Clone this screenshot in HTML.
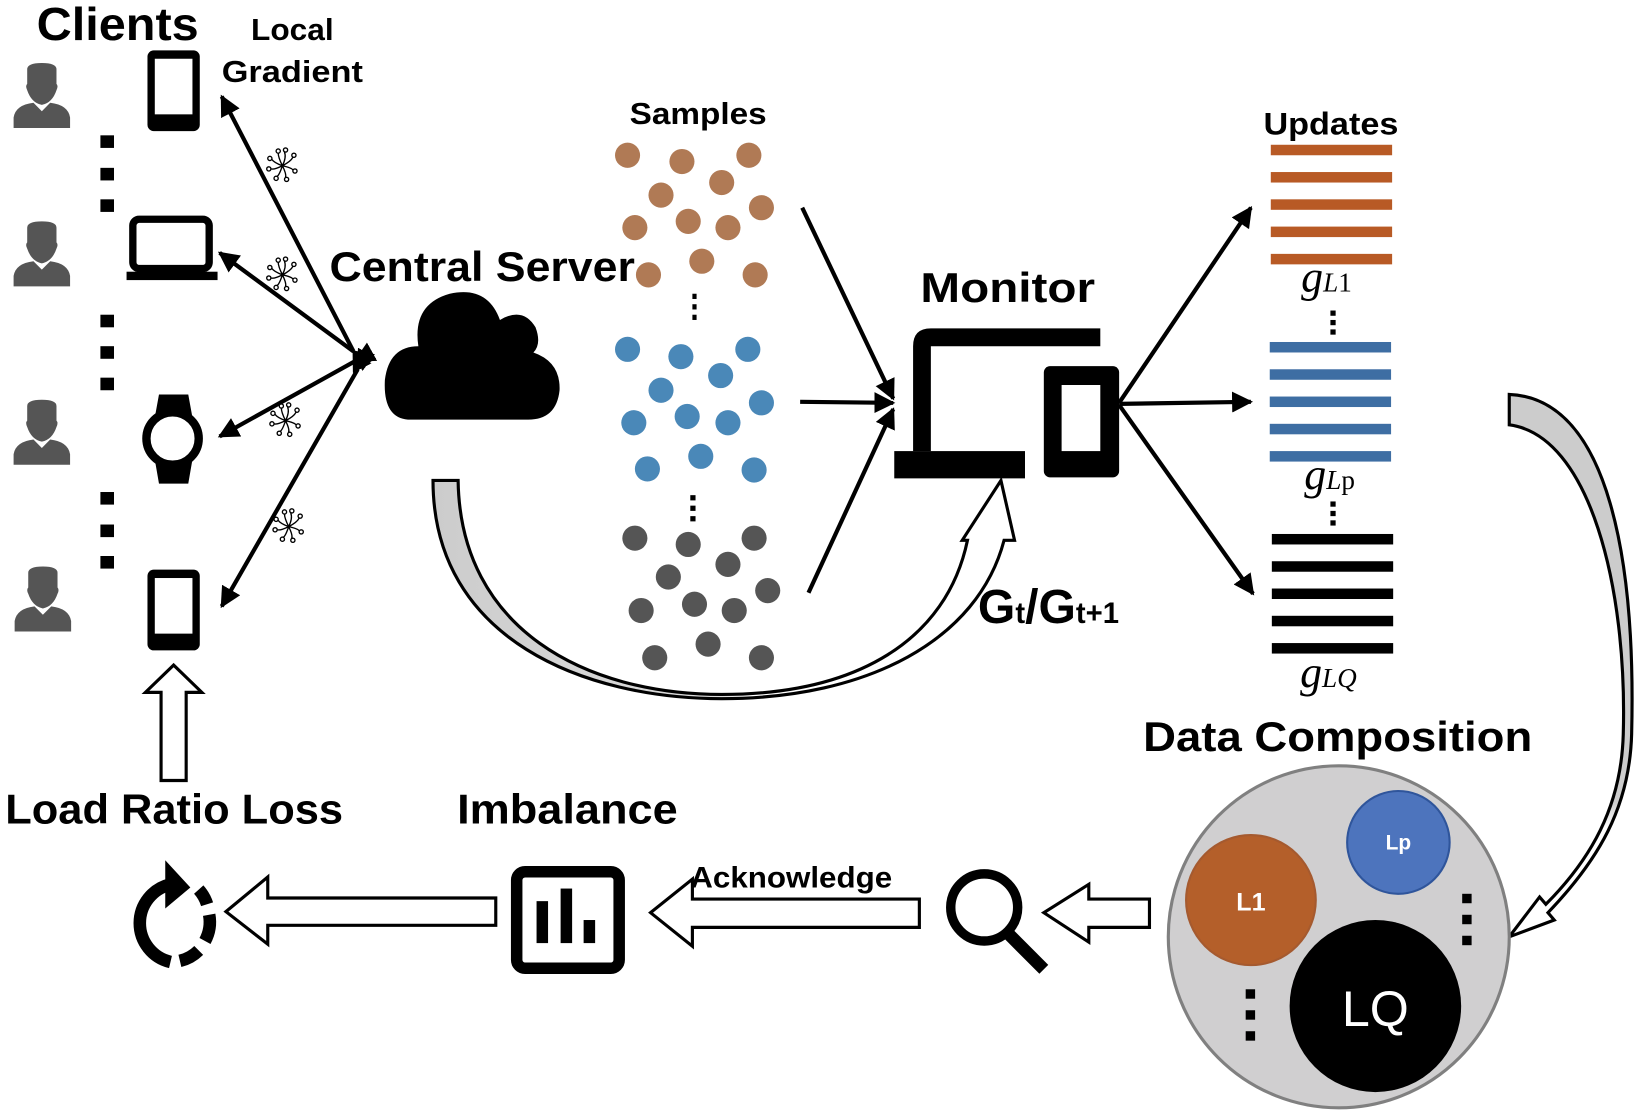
<!DOCTYPE html>
<html><head><meta charset="utf-8"><style>html,body{margin:0;padding:0;background:#fff}svg{display:block}</style></head>
<body>
<svg width="1640" height="1112" viewBox="0 0 1568 1060" preserveAspectRatio="none" xmlns="http://www.w3.org/2000/svg" font-family="'Liberation Sans', sans-serif" font-weight="bold">
<defs>
<marker id="ah" viewBox="0 0 10 10" refX="9" refY="5" markerWidth="5" markerHeight="5" orient="auto"><path d="M0,0 L10,5 L0,10 z" fill="#000"/></marker>
<g id="person" fill="#555">
<path d="M-14,-28 Q-14,-34 0,-34 Q14,-34 14,-28 L14,-14 Q16,-12 14,-8 Q10,4 0,6 Q-10,4 -14,-8 Q-16,-12 -14,-14 Z"/>
<path d="M-27,28 L-27,18 Q-25,6 -8,4 L0,12 L8,4 Q25,6 27,18 L27,28 Z"/>
</g>
<g id="chip" fill="none" stroke="#000" stroke-width="1.3">
<path d="M0,0 Q-4,-8 -4,-12 M0,0 Q4,-8 2,-13 M0,0 Q8,-4 10,-8 M0,0 Q9,2 10,4 M0,0 Q4,8 3,11 M0,0 Q-3,9 -5,10 M0,0 Q-8,4 -11,3 M0,0 Q-8,-3 -10,-6"/>
<circle cx="-4" cy="-14" r="2" fill="#fff"/><circle cx="3" cy="-15" r="2" fill="#fff"/><circle cx="11" cy="-10" r="2" fill="#fff"/><circle cx="12" cy="5" r="2" fill="#fff"/><circle cx="4" cy="13" r="2" fill="#fff"/><circle cx="-6" cy="12" r="2" fill="#fff"/><circle cx="-13" cy="3" r="2" fill="#fff"/><circle cx="-12" cy="-7" r="2" fill="#fff"/>
</g>
<g id="phone"><rect x="-25" y="-38" width="50" height="77" rx="6" fill="#000"/><rect x="-18" y="-30" width="36" height="53" fill="#fff"/></g>
<linearGradient id="gr1" x1="0" y1="0" x2="1" y2="0"><stop offset="0" stop-color="#ccc"/><stop offset="0.5" stop-color="#ddd"/><stop offset="0.55" stop-color="#fff"/></linearGradient>
<linearGradient id="gr2" x1="0" y1="0" x2="0" y2="1"><stop offset="0" stop-color="#ccc"/><stop offset="0.75" stop-color="#ccc"/><stop offset="0.8" stop-color="#fff"/></linearGradient>
</defs>

<!-- Text -->
<text x="35" y="38" font-size="44" textLength="155" lengthAdjust="spacingAndGlyphs">Clients</text>
<text x="240" y="38" font-size="29" textLength="79" lengthAdjust="spacingAndGlyphs">Local</text>
<text x="212" y="78" font-size="29" textLength="135" lengthAdjust="spacingAndGlyphs">Gradient</text>
<text x="315" y="268" font-size="40" textLength="292" lengthAdjust="spacingAndGlyphs">Central Server</text>
<text x="602" y="118" font-size="29" textLength="131" lengthAdjust="spacingAndGlyphs">Samples</text>
<text x="880" y="288" font-size="40" textLength="167" lengthAdjust="spacingAndGlyphs">Monitor</text>
<text x="1208" y="128" font-size="30" textLength="129" lengthAdjust="spacingAndGlyphs">Updates</text>
<text x="1093" y="716" font-size="40" textLength="372" lengthAdjust="spacingAndGlyphs">Data Composition</text>
<text x="5" y="785" font-size="40" textLength="323" lengthAdjust="spacingAndGlyphs">Load Ratio Loss</text>
<text x="437" y="785" font-size="40" textLength="211" lengthAdjust="spacingAndGlyphs">Imbalance</text>
<text x="660" y="846" font-size="28" textLength="193" lengthAdjust="spacingAndGlyphs">Acknowledge</text>
<text x="935" y="594" font-size="46">G<tspan font-size="28">t</tspan>/G<tspan font-size="28">t+1</tspan></text>
<g font-family="'Liberation Serif', serif" font-style="italic" font-weight="normal">
<text x="1244" y="278" font-size="42">g<tspan font-size="26">L</tspan><tspan font-style="normal" font-size="26">1</tspan></text>
<text x="1247" y="466" font-size="42">g<tspan font-size="26">L</tspan><tspan font-style="normal" font-size="26">p</tspan></text>
<text x="1243" y="655" font-size="42">g<tspan font-size="26">LQ</tspan></text>
</g>

<!-- persons -->
<use href="#person" x="40" y="94"/>
<use href="#person" x="40" y="245"/>
<use href="#person" x="40" y="415"/>
<use href="#person" x="41" y="574"/>
<g fill="#000">
<rect x="96" y="129" width="13" height="12"/><rect x="96" y="160" width="13" height="12"/><rect x="96" y="190" width="13" height="12"/>
<rect x="96" y="300" width="13" height="12"/><rect x="96" y="330" width="13" height="12"/><rect x="96" y="360" width="13" height="12"/>
<rect x="96" y="469" width="13" height="12"/><rect x="96" y="500" width="13" height="12"/><rect x="96" y="530" width="13" height="12"/>
</g>
<use href="#phone" x="166" y="86"/>
<use href="#phone" x="166" y="581"/>
<g><rect x="127" y="209" width="73" height="47" rx="6" fill="none" stroke="#000" stroke-width="7"/><rect x="121" y="259" width="87" height="8" fill="#000"/></g>
<g><path d="M152,376 L180,376 L184,398 L148,398 Z M148,438 L184,438 L180,461 L152,461 Z" fill="#000"/><circle cx="165" cy="418" r="25" fill="#fff" stroke="#000" stroke-width="8"/></g>

<g stroke="#000" stroke-width="4" fill="none" marker-end="url(#ah)" marker-start="url(#ah)">
<line x1="338" y1="335" x2="212" y2="92"/>
<line x1="338" y1="335" x2="210" y2="241"/>
<line x1="340" y1="344" x2="210" y2="416"/>
<line x1="342" y1="352" x2="212" y2="578"/>
</g>
<use href="#chip" x="270" y="158"/>
<use href="#chip" x="270" y="262"/>
<use href="#chip" x="273" y="401"/>
<use href="#chip" x="276" y="502"/>

<path d="M390,400 Q366,398 368,362 Q372,330 400,330 Q394,290 430,280 Q466,272 478,305 Q500,292 512,312 Q518,328 510,336 Q536,345 535,372 Q532,400 505,400 Z" fill="#000"/>

<g fill="#b07a55">
<circle cx="600" cy="148" r="12"/><circle cx="652" cy="154" r="12"/><circle cx="716" cy="148" r="12"/><circle cx="632" cy="186" r="12"/><circle cx="690" cy="174" r="12"/><circle cx="728" cy="198" r="12"/><circle cx="607" cy="217" r="12"/><circle cx="658" cy="211" r="12"/><circle cx="696" cy="217" r="12"/><circle cx="620" cy="262" r="12"/><circle cx="671" cy="249" r="12"/><circle cx="722" cy="262" r="12"/>
</g>
<g fill="#4a88b8">
<circle cx="600" cy="333" r="12"/><circle cx="651" cy="340" r="12"/><circle cx="715" cy="333" r="12"/><circle cx="632" cy="372" r="12"/><circle cx="689" cy="358" r="12"/><circle cx="728" cy="384" r="12"/><circle cx="606" cy="403" r="12"/><circle cx="657" cy="397" r="12"/><circle cx="696" cy="403" r="12"/><circle cx="619" cy="447" r="12"/><circle cx="670" cy="435" r="12"/><circle cx="721" cy="448" r="12"/>
</g>
<g fill="#555">
<circle cx="607" cy="513" r="12"/><circle cx="658" cy="519" r="12"/><circle cx="721" cy="513" r="12"/><circle cx="639" cy="550" r="12"/><circle cx="696" cy="538" r="12"/><circle cx="734" cy="563" r="12"/><circle cx="613" cy="582" r="12"/><circle cx="664" cy="576" r="12"/><circle cx="702" cy="582" r="12"/><circle cx="626" cy="627" r="12"/><circle cx="677" cy="614" r="12"/><circle cx="728" cy="627" r="12"/>
</g>
<g fill="#000"><rect x="662" y="280" width="4" height="5"/><rect x="662" y="290" width="4" height="5"/><rect x="662" y="300" width="4" height="5"/>
<rect x="660" y="472" width="5" height="5"/><rect x="660" y="482" width="5" height="5"/><rect x="660" y="492" width="5" height="5"/></g>

<g stroke="#000" stroke-width="4" fill="none" marker-end="url(#ah)">
<line x1="767" y1="198" x2="854" y2="380"/>
<line x1="765" y1="383" x2="854" y2="384"/>
<line x1="773" y1="565" x2="854" y2="390"/>
</g>

<path d="M890,330 L890,430 L873,430 L873,330 Q873,313 890,313 L1052,313 L1052,330 Z" fill="#000"/>
<rect x="855" y="430" width="125" height="26" fill="#000"/>
<rect x="998" y="349" width="72" height="106" rx="6" fill="#000"/>
<rect x="1015" y="367" width="37" height="63" fill="#fff"/>

<g stroke="#000" stroke-width="4" fill="none" marker-end="url(#ah)">
<line x1="1070" y1="384" x2="1196" y2="198"/>
<line x1="1070" y1="385" x2="1196" y2="383"/>
<line x1="1070" y1="386" x2="1198" y2="566"/>
</g>

<g fill="#b85a25">
<rect x="1215" y="138" width="116" height="10"/><rect x="1215" y="164" width="116" height="10"/><rect x="1215" y="190" width="116" height="10"/><rect x="1215" y="216" width="116" height="10"/><rect x="1215" y="242" width="116" height="10"/>
</g>
<g fill="#3e6ea3">
<rect x="1214" y="326" width="116" height="10"/><rect x="1214" y="352" width="116" height="10"/><rect x="1214" y="378" width="116" height="10"/><rect x="1214" y="404" width="116" height="10"/><rect x="1214" y="430" width="116" height="10"/>
</g>
<g fill="#000">
<rect x="1216" y="509" width="116" height="10"/><rect x="1216" y="535" width="116" height="10"/><rect x="1216" y="561" width="116" height="10"/><rect x="1216" y="587" width="116" height="10"/><rect x="1216" y="613" width="116" height="10"/>
<rect x="1272" y="296" width="5" height="5"/><rect x="1272" y="305" width="5" height="5"/><rect x="1272" y="314" width="5" height="5"/>
<rect x="1272" y="478" width="5" height="5"/><rect x="1272" y="487" width="5" height="5"/><rect x="1272" y="496" width="5" height="5"/>
</g>

<path d="M414,458 L438,458 C440,600 560,662 690,662 C820,662 905,610 925,515 L920,515 L957,458 L970,515 L960,515 C935,610 830,666 690,666 C560,666 414,610 414,458 Z" fill="url(#gr1)" stroke="#000" stroke-width="3"/>

<!-- right curved arrow -->
<path d="M1443,376 L1443,405 C1520,415 1556,560 1552,700 C1550,770 1520,820 1478,862 L1472,855 L1443,893 L1486,877 L1480,870 C1528,820 1558,770 1560,700 C1564,540 1540,380 1443,376 Z" fill="url(#gr2)" stroke="#000" stroke-width="3"/>

<circle cx="1280" cy="893" r="163" fill="#d0cfd0" stroke="#808080" stroke-width="3"/>
<circle cx="1196" cy="858" r="62" fill="#b45f2a" stroke="#a55a2f" stroke-width="2"/>
<circle cx="1337" cy="803" r="49" fill="#4d74bd" stroke="#2f559b" stroke-width="2"/>
<circle cx="1315" cy="959" r="82" fill="#000"/>
<text x="1196" y="868" font-size="24" fill="#fff" text-anchor="middle">L1</text>
<text x="1337" y="810" font-size="20" fill="#fff" text-anchor="middle">Lp</text>
<text x="1315" y="978" font-size="48" fill="#fff" text-anchor="middle" font-weight="normal">LQ</text>
<g fill="#000"><rect x="1398" y="852" width="9" height="9"/><rect x="1398" y="872" width="9" height="9"/><rect x="1398" y="892" width="9" height="9"/>
<rect x="1191" y="943" width="9" height="9"/><rect x="1191" y="963" width="9" height="9"/><rect x="1191" y="983" width="9" height="9"/></g>

<path d="M1099,857 L1099,884 L1041,884 L1041,898 L998,870 L1041,843 L1041,857 Z" fill="#fff" stroke="#000" stroke-width="3"/>
<path d="M879,857 L879,884 L662,884 L662,902 L622,870 L662,838 L662,857 Z" fill="#fff" stroke="#000" stroke-width="3"/>
<path d="M474,856 L474,882 L256,882 L256,900 L216,869 L256,836 L256,856 Z" fill="#fff" stroke="#000" stroke-width="3"/>
<path d="M154,744 L178,744 L178,660 L193,660 L166,634 L139,660 L154,660 Z" fill="#fff" stroke="#000" stroke-width="3"/>

<circle cx="941" cy="865" r="32" fill="none" stroke="#000" stroke-width="9"/>
<line x1="965" y1="891" x2="998" y2="924" stroke="#000" stroke-width="12"/>

<rect x="494" y="831" width="98" height="92" rx="8" fill="none" stroke="#000" stroke-width="11"/>
<rect x="513" y="859" width="11" height="40" fill="#000"/><rect x="536" y="847" width="11" height="52" fill="#000"/><rect x="558" y="877" width="11" height="22" fill="#000"/>

<!-- refresh -->
<path d="M163,917 A38,38 0 0 1 163,843" fill="none" stroke="#000" stroke-width="12"/>
<path d="M158,820 L158,866 L182,846 Z" fill="#000"/>
<path d="M172,916 A38,38 0 0 0 190,906" fill="none" stroke="#000" stroke-width="12"/>
<path d="M196,897 A38,38 0 0 0 200,872" fill="none" stroke="#000" stroke-width="12"/>
<path d="M198,862 A38,38 0 0 0 190,848" fill="none" stroke="#000" stroke-width="12"/>
</svg>
</body></html>
